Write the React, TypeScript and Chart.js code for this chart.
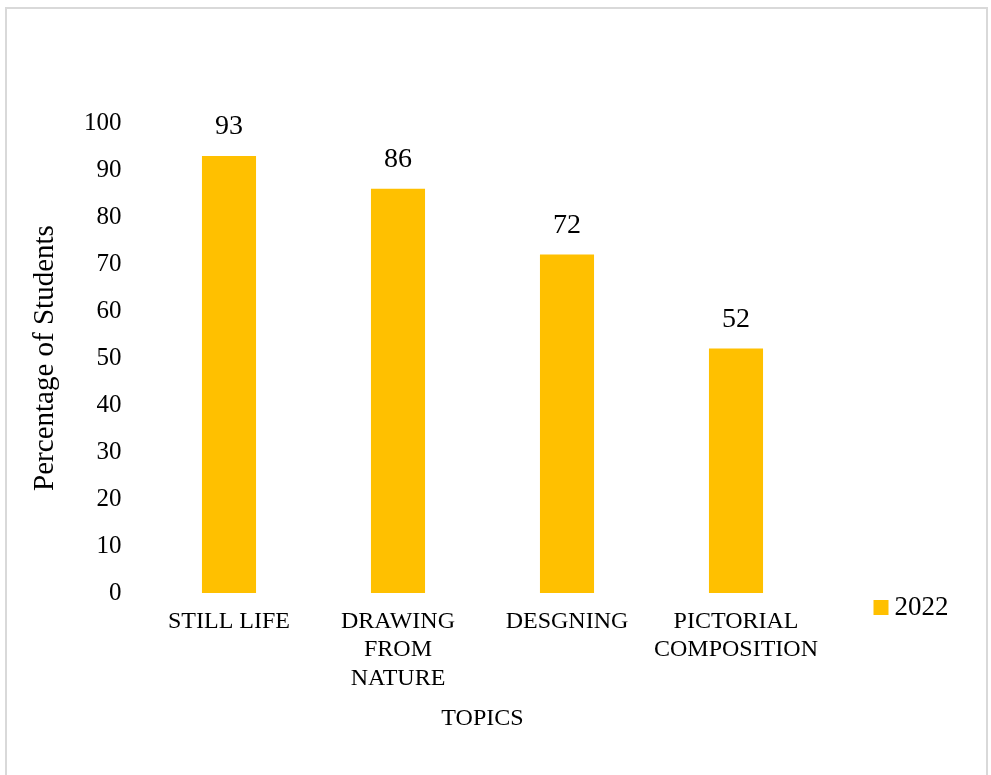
import React, { useEffect, useRef } from "react";
import { Chart, registerables } from "chart.js";

Chart.register(...registerables);

const categories: string[][] = [
  ["STILL LIFE"],
  ["DRAWING", "FROM", "NATURE"],
  ["DESGNING"],
  ["PICTORIAL", "COMPOSITION"],
];
const values2022: number[] = [93, 86, 72, 52];
const seriesLabel = "2022";
const yMin = 0;
const yMax = 100;
const yStep = 10;
const xTitle = "TOPICS";
const yTitle = "Percentage of Students";

const FONT = '"Liberation Serif", "Times New Roman", Times, serif';
const BAR_COLOR = "#FFC000";
const TEXT_COLOR = "#000000";

const valueLabels = {
  id: "valueLabels",
  afterDatasetsDraw(chart: any) {
    const ctx = chart.ctx;
    chart.data.datasets.forEach((ds: any, i: number) => {
      const meta = chart.getDatasetMeta(i);
      meta.data.forEach((bar: any, j: number) => {
        ctx.save();
        ctx.font = `28px ${FONT}`;
        ctx.fillStyle = TEXT_COLOR;
        ctx.textAlign = "center";
        ctx.textBaseline = "middle";
        ctx.fillText(String(ds.data[j]), bar.x, bar.y - 29);
        ctx.restore();
      });
    });
  },
};

const sideLegend = {
  id: "sideLegend",
  afterDraw(chart: any) {
    const ctx = chart.ctx;
    const area = chart.chartArea;
    const ds = chart.data.datasets[0];
    const x = area.right + 53;
    const y = area.bottom + 7;
    ctx.save();
    ctx.fillStyle = ds.backgroundColor;
    ctx.fillRect(x, y, 15, 15);
    ctx.font = `27px ${FONT}`;
    ctx.fillStyle = TEXT_COLOR;
    ctx.textAlign = "left";
    ctx.textBaseline = "middle";
    ctx.fillText(ds.label, x + 21, y + 8);
    ctx.restore();
  },
};

export default function App() {
  const canvasRef = useRef<HTMLCanvasElement | null>(null);

  useEffect(() => {
    if (!canvasRef.current) return;
    const chart = new Chart(canvasRef.current, {
      type: "bar",
      data: {
        labels: categories,
        datasets: [
          {
            label: seriesLabel,
            data: values2022,
            backgroundColor: BAR_COLOR,
            borderWidth: 0,
            categoryPercentage: 1,
            barPercentage: 0.32,
          },
        ],
      },
      options: {
        animation: false,
        responsive: true,
        maintainAspectRatio: false,
        layout: { padding: { top: 123, right: 170.5, bottom: 0, left: 0 } },
        plugins: {
          legend: { display: false },
          tooltip: { enabled: false },
        },
        scales: {
          x: {
            grid: { display: false, drawTicks: false },
            border: { display: false },
            ticks: {
              color: TEXT_COLOR,
              font: { family: FONT, size: 24 },
              padding: 14,
              maxRotation: 0,
              minRotation: 0,
              autoSkip: false,
            },
            title: {
              display: true,
              text: xTitle,
              color: TEXT_COLOR,
              font: { family: FONT, size: 24 },
              padding: { top: 0, bottom: 42 },
            },
            afterFit(scale: any) {
              scale.height = 182;
            },
          },
          y: {
            min: yMin,
            max: yMax,
            grid: { display: false, drawTicks: false },
            border: { display: false },
            ticks: {
              stepSize: yStep,
              color: TEXT_COLOR,
              font: { family: FONT, size: 25 },
              padding: 23,
            },
            title: {
              display: true,
              text: yTitle,
              color: TEXT_COLOR,
              font: { family: FONT, size: 29 },
              padding: { top: 28, bottom: 0 },
            },
            afterFit(scale: any) {
              scale.width = 144.5;
            },
          },
        },
      },
      plugins: [valueLabels, sideLegend],
    });
    return () => chart.destroy();
  }, []);

  return (
    <div
      style={{
        position: "fixed",
        left: 0,
        top: 0,
        width: 991,
        height: 775,
        background: "#fff",
        overflow: "hidden",
      }}
    >
      <div
        style={{
          position: "absolute",
          left: 5,
          top: 7,
          width: 983,
          height: 800,
          border: "2px solid #d9d9d9",
          boxSizing: "border-box",
        }}
      />
      <div style={{ position: "absolute", left: 0, top: 0, width: 991, height: 775 }}>
        <canvas ref={canvasRef} />
      </div>
    </div>
  );
}
